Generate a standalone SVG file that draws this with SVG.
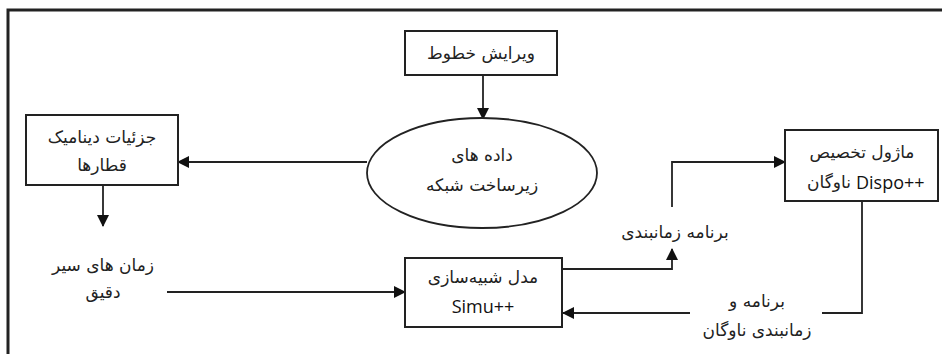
<svg xmlns="http://www.w3.org/2000/svg" width="942" height="354" viewBox="0 0 942 354">
<style>
.box{fill:#fff;stroke:#222;stroke-width:2}
.fa{font-family:"DejaVu Sans",sans-serif;font-size:17px;fill:#222;text-anchor:middle;dominant-baseline:central}
.en{font-family:"Open Sans","Liberation Sans",sans-serif;font-size:18px;fill:#111;text-anchor:middle;dominant-baseline:central}
.ln{fill:none;stroke:#222;stroke-width:1.8}
</style>
<defs>
<marker id="ah" markerUnits="userSpaceOnUse" markerWidth="12" markerHeight="12" refX="11" refY="6" orient="auto">
<path d="M0,0 L12,6 L0,12 z" fill="#111"/>
</marker>
</defs>
<rect width="942" height="354" fill="#fff"/>
<path d="M8,354 V10 H942" fill="none" stroke="#222" stroke-width="3"/>
<g id="connectors">
<path class="ln" d="M483,75 V119" marker-end="url(#ah)"/>
<path class="ln" d="M367,162 H178" marker-end="url(#ah)"/>
<path class="ln" d="M103,186 V226" marker-end="url(#ah)"/>
<path class="ln" d="M167,292 H405" marker-end="url(#ah)"/>
<path class="ln" d="M562,269 H672 V249" marker-end="url(#ah)"/>
<path class="ln" d="M672,207 V162 H785" marker-end="url(#ah)"/>
<path class="ln" d="M862,201 V313 H822"/>
<path class="ln" d="M690,313 H563" marker-end="url(#ah)"/>
</g>
<g id="edit-lines">
<rect class="box" x="405" y="31" width="152" height="44"/>
<text class="fa" x="481" y="53" direction="rtl">ویرایش خطوط</text>
</g>
<g id="infra-data">
<ellipse cx="482" cy="173" rx="115" ry="55" fill="#fff" stroke="#222" stroke-width="1.8"/>
<text class="fa" x="482" y="155" direction="rtl">داده های</text>
<text class="fa" x="482" y="185" direction="rtl">زیرساخت شبکه</text>
</g>
<g id="train-dynamics">
<rect class="box" x="26" y="115" width="152" height="70"/>
<text class="fa" x="102" y="137" direction="rtl">جزئیات دینامیک</text>
<text class="fa" x="102" y="165" direction="rtl">قطارها</text>
</g>
<g id="run-times">
<text class="fa" x="103" y="265" direction="rtl">زمان های سیر</text>
<text class="fa" x="103" y="292" direction="rtl">دقیق</text>
</g>
<g id="simu">
<rect class="box" x="405" y="258" width="157" height="69"/>
<text class="fa" x="483" y="277" direction="rtl">مدل شبیه‌سازی</text>
<text class="en" x="483" y="306">Simu++</text>
</g>
<g id="schedule">
<text class="fa" x="675" y="232" direction="rtl">برنامه زمانبندی</text>
</g>
<g id="dispo">
<rect class="box" x="785" y="130" width="153" height="71"/>
<text class="fa" x="862" y="152" direction="rtl">ماژول تخصیص</text>
<text class="fa" x="851" y="182" direction="rtl" style="text-anchor:start">ناوگان</text>
<text class="en" x="856" y="182" style="text-anchor:start">Dispo++</text>
</g>
<g id="fleet-schedule">
<text class="fa" x="757" y="301" direction="rtl">برنامه و</text>
<text class="fa" x="757" y="330" direction="rtl">زمانبندی ناوگان</text>
</g>
</svg>
